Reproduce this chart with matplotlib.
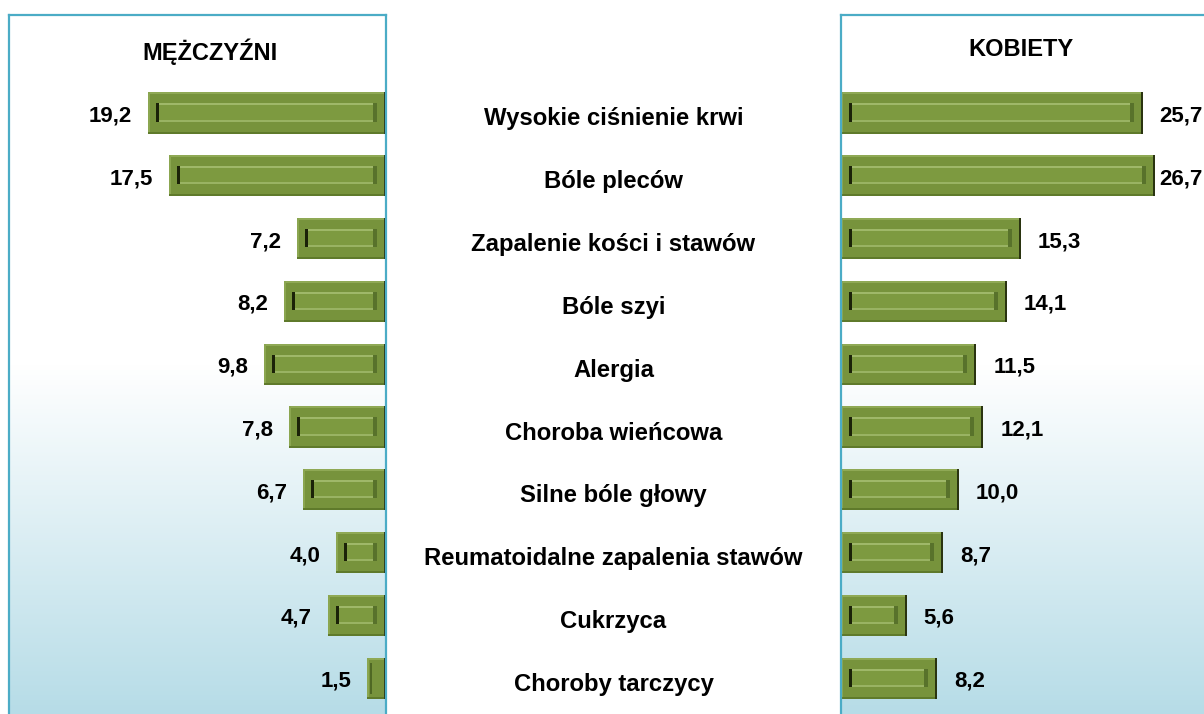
import numpy as np
import matplotlib
matplotlib.use('Agg')
import matplotlib.pyplot as plt
from matplotlib.patches import Rectangle
from matplotlib.colors import to_rgb

categories = ["Wysokie ciśnienie krwi", "Bóle pleców", "Zapalenie kości i stawów",
              "Bóle szyi", "Alergia", "Choroba wieńcowa", "Silne bóle głowy",
              "Reumatoidalne zapalenia stawów", "Cukrzyca", "Choroby tarczycy"]
men = [19.2, 17.5, 7.2, 8.2, 9.8, 7.8, 6.7, 4.0, 4.7, 1.5]
women = [25.7, 26.7, 15.3, 14.1, 11.5, 12.1, 10.0, 8.7, 5.6, 8.2]
men_title = "MĘŻCZYŹNI"
women_title = "KOBIETY"

plt.rcParams['font.family'] = ['Liberation Sans', 'DejaVu Sans']

W, H = 1204, 714
fig = plt.figure(figsize=(W / 100, H / 100), dpi=100)
fig.patch.set_facecolor('white')

TOP, BOT = 15, 722
ROW0, STEP = 113.0, 62.8
ylim = ((BOT - ROW0) / STEP, (TOP - ROW0) / STEP)


def px_axes(x0, x1):
    return fig.add_axes([x0 / W, 1 - BOT / H, (x1 - x0) / W, (BOT - TOP) / H])


def gradient(ax):
    ys = np.arange(TOP, BOT)
    t = np.clip((ys - 365) / (714 - 365), 0, 1)
    c0 = np.array([1.0, 1.0, 1.0])
    c1 = np.array(to_rgb('#b6dce7'))
    img = (c0[None, :] * (1 - t[:, None]) + c1[None, :] * t[:, None])
    img = np.repeat(img[:, None, :], 4, axis=1)
    ax.imshow(img, extent=[0, 1, 0, 1], transform=ax.transAxes, aspect='auto',
              zorder=0, interpolation='bilinear')


def style(ax):
    for s in ax.spines.values():
        s.set_color('#4bacc6')
        s.set_linewidth(1.6)
        s.set_zorder(10)
    ax.set_xticks([])
    ax.set_yticks([])


def px_rect(ax, x0, y0, x1, y1, color):
    inv = ax.transData.inverted()
    (a, b), (c, d) = inv.transform([(x0, y0), (x1, y1)])
    ax.add_patch(Rectangle((min(a, c), min(b, d)), abs(c - a), abs(d - b),
                           facecolor=color, edgecolor='none', zorder=3))


def bevel(ax, bar):
    bb = bar.get_window_extent()
    x0, x1, y0, y1 = bb.x0, bb.x1, bb.y0, bb.y1
    w = x1 - x0
    # outer bevel shading
    px_rect(ax, x0, y1 - 2, x1, y1, '#8fa955')
    px_rect(ax, x0, y0, x0 + 2, y1, '#8ba650')
    px_rect(ax, x0, y0, x1, y0 + 2, '#5f7a2b')
    px_rect(ax, x1 - 2, y0, x1, y1, '#2a3410')
    ix, iyt, iyb = 9, 11, 12
    if w > 2 * ix + 6:
        px_rect(ax, x0 + ix, y0 + iyb, x1 - ix, y1 - iyt, '#7d9a40')
        px_rect(ax, x0 + ix, y1 - iyt - 2, x1 - ix, y1 - iyt, '#9fb869')
        px_rect(ax, x0 + ix, y0 + iyb, x1 - ix, y0 + iyb + 2, '#99b363')
        px_rect(ax, x0 + ix - 1, y0 + iyb, x0 + ix + 2, y1 - iyt, '#1b2208')
        px_rect(ax, x1 - ix - 4, y0 + iyb, x1 - ix, y1 - iyt, '#58722b')
    else:
        px_rect(ax, x0 + 3, y0 + 5, x0 + 5, y1 - 5, '#4f6824')


def fmt(v):
    return f"{v:.1f}".replace('.', ',')


ypos = np.arange(len(categories))
VAL_FS = 16
CAT_FS = 17.2
TITLE_FS = 17

# Left panel (men)
axL = px_axes(9, 386)
gradient(axL)
barsL = axL.barh(ypos, men, height=0.655, color='#77933c', edgecolor='none', zorder=2)
axL.set_xlim(30.4, 0)
axL.set_ylim(*ylim)
style(axL)
for b in barsL:
    bevel(axL, b)
for y, v in zip(ypos, men):
    axL.annotate(fmt(v), (v, y), xytext=(-16, -3), textcoords='offset pixels',
                 ha='right', va='center', fontsize=VAL_FS, fontweight='bold', zorder=5)
axL.text((210 - 9) / 377, 1 - (52 - TOP) / (BOT - TOP), men_title, transform=axL.transAxes,
         ha='center', va='center', fontsize=TITLE_FS, fontweight='bold')

# Right panel (women)
axR = px_axes(841, 1240)
gradient(axR)
barsR = axR.barh(ypos, women, height=0.655, color='#77933c', edgecolor='none', zorder=2)
axR.set_xlim(0, 399 / 11.75)
axR.set_ylim(*ylim)
style(axR)
for b in barsR:
    bevel(axR, b)
right_labels = []
for y, v in zip(ypos, women):
    t = axR.annotate(fmt(v), (v, y), xytext=(17, -3), textcoords='offset pixels',
                     ha='left', va='center', fontsize=VAL_FS, fontweight='bold', zorder=5)
    right_labels.append(t)
axR.text((1021.5 - 841) / 399, 1 - (50 - TOP) / (BOT - TOP), women_title, transform=axR.transAxes,
         ha='center', va='center', fontsize=TITLE_FS, fontweight='bold')

# Middle category labels
axM = px_axes(386, 841)
axM.set_ylim(*ylim)
axM.set_xlim(0, 1)
axM.axis('off')
for y, c in zip(ypos, categories):
    axM.annotate(c, (0.5, y), xytext=(0, -6), textcoords='offset pixels',
                 ha='center', va='center', fontsize=CAT_FS, fontweight='bold')

# keep right-hand value labels inside the figure (as the original does)
fig.canvas.draw()
renderer = fig.canvas.get_renderer()
for t in right_labels:
    bb = t.get_window_extent(renderer)
    if bb.x1 > W - 1:
        dx = bb.x1 - (W - 1)
        ox, oy = t.xyann
        t.xyann = (ox - dx, oy)

fig.savefig('out.png', dpi=100)
